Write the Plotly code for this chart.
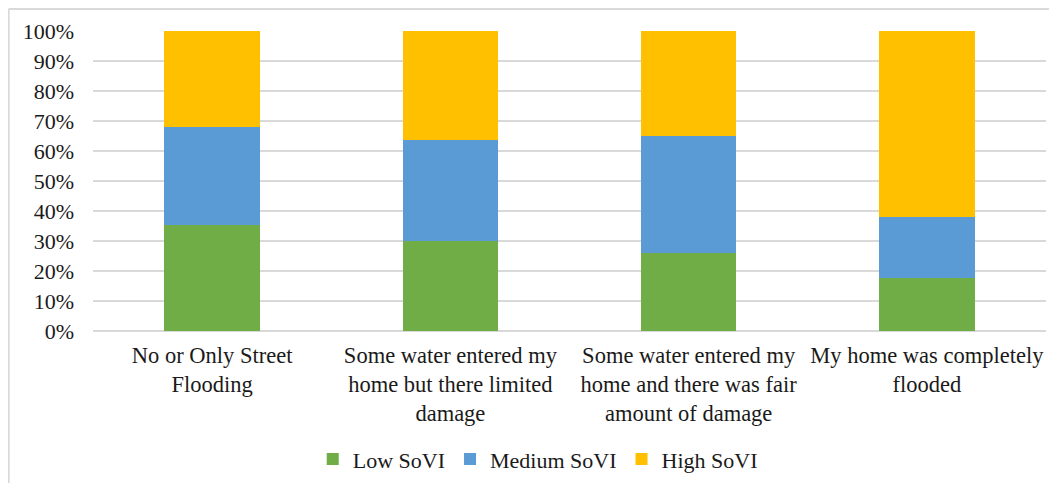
import plotly.graph_objects as go

categories = [
    "No or Only Street<br>Flooding",
    "Some water entered my<br>home but there limited<br>damage",
    "Some water entered my<br>home and there was fair<br>amount of damage",
    "My home was completely<br>flooded",
]
low_sovi = [35.2, 30.0, 26.0, 17.6]
medium_sovi = [32.9, 33.8, 39.1, 20.3]
high_sovi = [31.9, 36.2, 34.9, 62.1]
tick_vals = [0, 10, 20, 30, 40, 50, 60, 70, 80, 90, 100]
tick_text = ["0%", "10%", "20%", "30%", "40%", "50%", "60%", "70%", "80%", "90%", "100%"]

FONT = "Liberation Serif, Times New Roman, serif"

fig = go.Figure()
for name, vals, col in [
    ("Low SoVI", low_sovi, "#70ad47"),
    ("Medium SoVI", medium_sovi, "#5b9bd5"),
    ("High SoVI", high_sovi, "#ffc000"),
]:
    fig.add_trace(go.Bar(x=categories, y=vals, name=name, marker_color=col,
                         marker_line_width=0, hoverinfo="skip"))

fig.update_layout(
    width=1049, height=475,
    barmode="stack", bargap=0.6,
    paper_bgcolor="white", plot_bgcolor="white",
    margin=dict(l=85, r=11, t=23, b=152),
    font=dict(family=FONT, size=22, color="#1a1a1a"),
    showlegend=True,
    legend=dict(orientation="h", xref="container", yref="container",
                x=0.505, xanchor="center", y=0.05, yanchor="middle",
                font=dict(size=22), itemwidth=30, traceorder="normal"),
    xaxis=dict(showgrid=False, showline=False, ticks="", ticklabelstandoff=8,
               tickfont=dict(size=22.5), automargin=False),
    yaxis=dict(range=[0, 100], tickvals=tick_vals, ticktext=tick_text,
               showgrid=True, gridcolor="#d9d9d9", gridwidth=2,
               zeroline=True, zerolinecolor="#d9d9d9", zerolinewidth=2,
               showline=False, ticks="", ticklabelstandoff=18,
               tickfont=dict(size=22), automargin=False),
    shapes=[
        dict(type="line", xref="paper", yref="paper", x0=-0.0885, x1=-0.0885,
             y0=1.073, y1=-0.51, line=dict(color="#d9d9d9", width=2)),
        dict(type="line", xref="paper", yref="paper", x0=-0.0885, x1=1.02,
             y0=1.073, y1=1.073, line=dict(color="#d9d9d9", width=2)),
    ],
)

fig.write_html("out.html")
